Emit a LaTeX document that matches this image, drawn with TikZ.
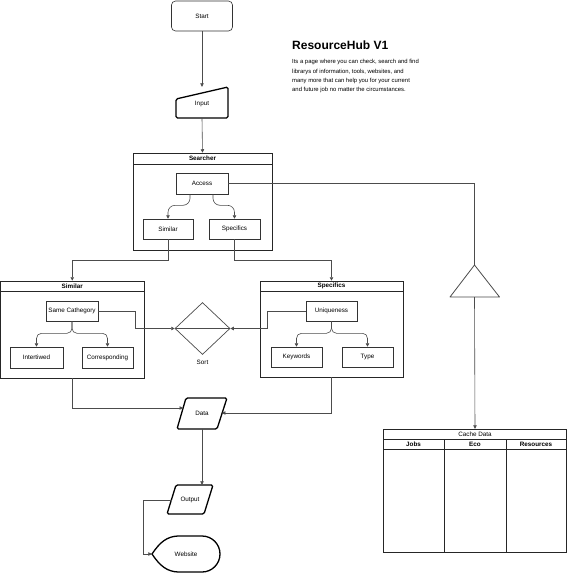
\documentclass[tikz,border=0pt]{standalone}
\usepackage{fontspec}
\setmainfont{Liberation Sans}
\usetikzlibrary{arrows.meta,shapes.geometric,calc}
\begin{document}
\begin{tikzpicture}[x=1pt,y=-1pt,
  lbl/.style={font=\fontsize{6.3}{7.5}\selectfont},
  box/.style={draw=black!80,line width=0.6pt,inner sep=0pt,lbl},
  cont/.style={draw=black!85,line width=0.7pt},
  thick shape/.style={draw=black,line width=1.3pt,rounded corners=1.5pt},
  conn/.style={draw=black!70,line width=0.6pt},
  arr/.style={conn,-{Triangle[length=3.4pt,width=3.4pt]}},
  hdr/.style={font=\bfseries\fontsize{6.3}{7.5}\selectfont,inner sep=0pt}]
\useasboundingbox (0,0) rectangle (567,573);
\fill[white] (0,0) rectangle (567,573);

% title and description
\node[anchor=base west,inner sep=0pt,font=\bfseries\fontsize{12}{14}\selectfont] (title) at (292,49) {ResourceHub V1};
\node[anchor=north west,inner sep=0pt,align=left,font=\fontsize{5.9}{9.2}\selectfont] (desc) at (292,59.5)
 {Its a page where you can check, search and find\\librarys of information, tools, websites, and\\many more that can help you for your current\\and future job no matter the circumstances.};

% Start
\node[box,rounded corners=4pt,minimum width=61,minimum height=30] (start) at (202,16) {Start};

% Input (manual input)
\node[inner sep=0pt,minimum width=52,minimum height=31,lbl] (input) at (202,102.5) {};
\draw[thick shape] (176,99) -- (228,87) -- (228,118) -- (176,118) -- cycle;
\node[lbl,inner sep=0pt] (inputt) at (202,103.5) {Input};
\draw[arr] (start.south) -- (input.north);

% Searcher container
\node[cont,inner sep=0pt,minimum width=139,minimum height=97] (searcher) at (202.5,201.5) {};
\draw[cont] (133,164) -- (272,164);
\node[hdr] (searchert) at (202.5,158.5) {Searcher};
\draw[arr] (input.south) -- (searcher.north);

\node[box,minimum width=52,minimum height=21] (access) at (202,183.5) {Access};
\node[box,minimum width=50,minimum height=20] (simA) at (168,229) {Similar};
\node[box,minimum width=51,minimum height=20] (specA) at (234.5,229) {Specifics};
\draw[arr,rounded corners=7pt] ($(access.south)+(-12,0)$) -- ++(0,11) -| (simA.north);
\draw[arr,rounded corners=7pt] ($(access.south)+(11,0)$) -- ++(0,11) -| (specA.north);

% Triangle and Cache Data
\coordinate (triT) at (474.5,265);
\coordinate (triB) at (474.5,297);
\draw[conn,line width=0.8pt,line join=round] (triT) -- (499.5,297) -- (450,297) -- cycle;
\draw[conn] (access.east) -| (triT);

\node[inner sep=0pt,minimum width=184,minimum height=123] (cache) at (475,490.5) {};
\draw[cont] (383,429) rectangle (566.5,552);
\draw[cont] (383,439) -- (566.5,439);
\draw[cont] (383,449) -- (566.5,449);
\draw[cont] (444,439) -- (444,552);
\draw[cont] (506,439) -- (506,552);
\node[lbl,inner sep=0pt] (cachet) at (475,434) {Cache Data};
\node[hdr] (jobs) at (413.5,444.2) {Jobs};
\node[hdr] (eco) at (475,444.2) {Eco};
\node[hdr] (res) at (536,444.2) {Resources};
\draw[arr] (triB) -- (cache.north);

% Similar container
\node[cont,inner sep=0pt,minimum width=143.5,minimum height=97] (simC) at (72.25,329.5) {};
\draw[cont] (0.5,291) -- (144,291);
\node[hdr] (simCt) at (72.25,286) {Similar};
\node[box,minimum width=52,minimum height=20] (same) at (72,311) {Same Cathegory};
\node[box,minimum width=53,minimum height=21] (inter) at (36.5,357.5) {Intertiwed};
\node[box,minimum width=51,minimum height=21] (corr) at (107.5,357.5) {Corresponding};
\draw[arr,rounded corners=5pt] (same.south) -- ++(0,12) -| (inter.north);
\draw[arr,rounded corners=5pt] (same.south) -- ++(0,12) -| (corr.north);
\draw[arr] (simA.south) -- ++(0,21) -| (simC.north);

% Specifics container
\node[cont,inner sep=0pt,minimum width=143,minimum height=96] (specC) at (331.5,329) {};
\draw[cont] (260,291) -- (403,291);
\node[hdr] (specCt) at (331.5,286) {Specifics};
\node[box,minimum width=51,minimum height=20] (uniq) at (331.5,311) {Uniqueness};
\node[box,minimum width=51,minimum height=20] (kw) at (296.5,357) {Keywords};
\node[box,minimum width=51,minimum height=20] (type) at (367.5,357) {Type};
\draw[arr,rounded corners=5pt] (uniq.south) -- ++(0,12) -| (kw.north);
\draw[arr,rounded corners=5pt] (uniq.south) -- ++(0,12) -| (type.north);
\draw[arr] (specA.south) -- ++(0,21) -| (specC.north);

% Sort diamond
\node[diamond,draw=black!70,line width=0.7pt,inner sep=0pt,minimum width=55,minimum height=52] (sort) at (202.5,328.5) {};
\node[lbl,inner sep=0pt] (sortt) at (202.5,362) {Sort};
\draw[arr] (same.east) -- ++(37,0) |- (sort.west);
\draw[arr] (uniq.west) -- ++(-38,0) |- (sort.east);
\draw[conn] (sort.west) -- (sort.east);

% Data
\node[inner sep=0pt,minimum width=50,minimum height=31] (data) at (202,413.5) {};
\draw[thick shape] (186,398) -- (227,398) -- (217,429) -- (177,429) -- cycle;
\node[lbl,inner sep=0pt] (datat) at (202,413) {Data};
\coordinate (dataL) at (183,408);
\coordinate (dataR) at (222,413);
\draw[arr] (simC.south) |- (dataL);
\draw[arr] (specC.south) |- (dataR);

% Output
\node[inner sep=0pt,minimum width=46,minimum height=29] (output) at (190,499.5) {};
\draw[thick shape] (176,485) -- (213,485) -- (204,514) -- (167,514) -- cycle;
\node[lbl,inner sep=0pt] (outputt) at (190,499.5) {Output};
\draw[arr] (data.south) -- (data.south |- output.north);
\coordinate (outL) at (171.5,500);

% Website
\node[inner sep=0pt,minimum width=68,minimum height=36] (web) at (186,554) {};
\draw[draw=black,line width=1.3pt] (152,554) .. controls (160,542) and (167,536.5) .. (178,536) -- (202,536)
  arc[start angle=-90,end angle=90,radius=18] -- (178,572) .. controls (167,571.5) and (160,566) .. (152,554) -- cycle;
\node[lbl,inner sep=0pt] (webt) at (186,554) {Website};
\draw[arr] (outL) -- (143,500) |- (web.west);
\end{tikzpicture}
\end{document}
